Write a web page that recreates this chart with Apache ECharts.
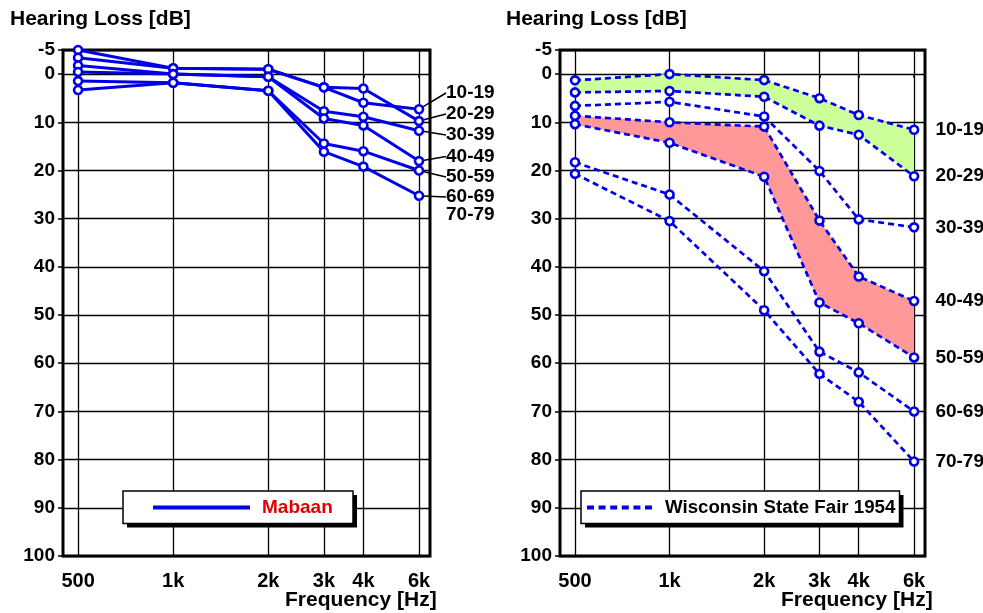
<!DOCTYPE html>
<html><head><meta charset="utf-8">
<script src="https://cdn.jsdelivr.net/npm/echarts@6/dist/echarts.min.js"></script>
<style>html,body{margin:0;padding:0;background:#fff}#c{width:983px;height:613px}</style>
</head><body><div id="c"></div>
<script>
// ---- data ----
const freqs = [500, 1000, 2000, 3000, 4000, 6000];
const freqLabels = ['500', '1k', '2k', '3k', '4k', '6k'];
const ageGroups = ['10-19', '20-29', '30-39', '40-49', '50-59', '60-69', '70-79'];
const yTicks = [-5, 0, 10, 20, 30, 40, 50, 60, 70, 80, 90, 100];

// Mabaan (left)
const mab1019 = [-5.0, -1.2, -1.0, 2.75, 5.95, 7.3];
const mab2029 = [-3.4, -1.2, -1.0, 2.75, 3.0, 9.75];
const mab3039 = [-1.8, 0.0, 0.55, 7.7, 8.85, 11.75];
const mab4049 = [-0.45, 0.0, 0.55, 9.2, 10.65, 18.05];
const mab5059 = [1.45, 1.8, 3.45, 14.4, 16.0, 20.0];
const mab6069 = [3.3, 1.8, 3.45, 16.1, 19.2, 25.25];

// Wisconsin State Fair 1954 (right)
const wis1019 = [1.3, 0.0, 1.25, 5.0, 8.5, 11.55];
const wis2029 = [3.8, 3.5, 4.7, 10.7, 12.6, 21.2];
const wis3039 = [6.6, 5.75, 8.8, 20.1, 30.15, 31.8];
const wis4049 = [8.65, 10.0, 10.9, 30.4, 42.0, 47.1];
const wis5059 = [10.4, 14.25, 21.3, 47.4, 51.7, 58.8];
const wis6069 = [18.3, 25.0, 40.9, 57.6, 61.9, 70.0];
const wis7079 = [20.7, 30.5, 49.0, 62.2, 68.0, 80.4];

const mabaan = [mab1019, mab2029, mab3039, mab4049, mab5059, mab6069];
const wisconsin = [wis1019, wis2029, wis3039, wis4049, wis5059, wis6069, wis7079];

// ---- styling ----
const FONT = '"Liberation Sans", Arial, Helvetica, sans-serif';
const BLUE = '#0000e6';
const leftLabelY = [93, 114, 135, 156.5, 177, 197];

function freqName(v) {
  let best = 0, bd = Infinity;
  freqs.forEach((f, i) => { const d = Math.abs(Math.log(v) - Math.log(f)); if (d < bd) { bd = d; best = i; } });
  return freqLabels[best];
}

function xAxisFor(g) {
  return {
    type: 'log', gridIndex: g, logBase: 10, min: 448, max: 6500,
    axisLine: { show: false },
    axisTick: { show: true, customValues: freqs, length: 4, lineStyle: { color: '#000', width: 1.5 } },
    axisLabel: { customValues: freqs, formatter: freqName, margin: 15, color: '#000',
      fontSize: 20, fontWeight: 'bold', fontFamily: FONT },
    splitLine: { show: true, lineStyle: { color: '#000', width: 1.3 } },
    minorSplitLine: { show: false }
  };
}
function yAxisFor(g) {
  return {
    type: 'value', gridIndex: g, inverse: true, min: -5, max: 100, interval: 5,
    axisLine: { show: false },
    axisTick: { show: true, customValues: yTicks, length: 5, lineStyle: { color: '#000', width: 1.5 } },
    axisLabel: { customValues: yTicks, margin: 8, color: '#000',
      fontSize: 19, fontWeight: 'bold', fontFamily: FONT },
    splitLine: { show: true, lineStyle: { color: '#000', width: 1.3 } }
  };
}

const symbolStyle = { color: '#fff', borderColor: BLUE, borderWidth: 2.6 };
const series = [];

// left: Mabaan
mabaan.forEach((vals, i) => {
  const last = vals.length - 1;
  series.push({
    type: 'line', name: ageGroups[i], xAxisIndex: 0, yAxisIndex: 0, z: 4, clip: false,
    data: freqs.map((f, j) => j === last ? {
      value: [f, vals[j]],
      label: { show: true, formatter: ageGroups[i], color: '#000', fontSize: 19, fontWeight: 'bold', fontFamily: FONT },
      labelLine: { show: true, lineStyle: { color: '#000', width: 1.5 } }
    } : [f, vals[j]]),
    symbol: 'circle', symbolSize: 8,
    lineStyle: { color: BLUE, width: 3 },
    itemStyle: symbolStyle,
    labelLine: { show: true, lineStyle: { color: '#000', width: 1.5 } },
    labelLayout: () => ({ x: 446, y: leftLabelY[i], align: 'left', verticalAlign: 'middle' }),
    emphasis: { disabled: true }, animation: false
  });
});

// right: shaded bands between two age groups, drawn through the axis scales
function band(upper, lower, color) {
  series.push({
    type: 'custom', xAxisIndex: 1, yAxisIndex: 1, z: 1, silent: true, animation: false,
    data: [[freqs[0], upper[0]]],
    renderItem: (params, api) => {
      const top = freqs.map((f, j) => api.coord([f, upper[j]]));
      const bottom = freqs.map((f, j) => api.coord([f, lower[j]])).reverse();
      return { type: 'polygon', shape: { points: top.concat(bottom) }, style: { fill: color } };
    }
  });
}
band(wis1019, wis2029, '#ccff99');
band(wis4049, wis5059, '#ff9999');

// right: Wisconsin lines
wisconsin.forEach((vals, i) => {
  const last = vals.length - 1;
  series.push({
    type: 'line', name: ageGroups[i], xAxisIndex: 1, yAxisIndex: 1, z: 4, clip: false,
    data: freqs.map((f, j) => j === last ? {
      value: [f, vals[j]],
      label: { show: true, position: 'right', distance: 16, formatter: ageGroups[i], color: '#000',
        fontSize: 19, fontWeight: 'bold', fontFamily: FONT }
    } : [f, vals[j]]),
    symbol: 'circle', symbolSize: 8,
    lineStyle: { color: BLUE, width: 2.7, type: [6, 4] },
    itemStyle: symbolStyle,
    emphasis: { disabled: true }, animation: false
  });
});

// legend carriers
series.push({ type: 'line', name: 'Mabaan', xAxisIndex: 0, yAxisIndex: 0, data: [], symbol: 'none',
  lineStyle: { color: BLUE, width: 4 }, itemStyle: { color: BLUE } });
series.push({ type: 'line', name: 'Wisconsin State Fair 1954', xAxisIndex: 1, yAxisIndex: 1, data: [], symbol: 'none',
  lineStyle: { color: BLUE, width: 4, type: [7, 4.6] }, itemStyle: { color: BLUE } });

const DASH_ICON = 'path://M0,0h7v4h-7z M11.6,0h7v4h-7z M23.2,0h7v4h-7z M34.8,0h7v4h-7z M46.4,0h7v4h-7z M58,0h7v4h-7z';

const legendBase = {
  orient: 'horizontal', itemHeight: 4, backgroundColor: 'transparent', borderWidth: 0,
  selectedMode: false, z: 12
};

function legendFrame(x, y, w, h) {
  return [
    { type: 'rect', z: 10, shape: { x: x + 4, y: y + 4, width: w, height: h }, style: { fill: '#000' }, silent: true },
    { type: 'rect', z: 11, shape: { x: x, y: y, width: w, height: h }, style: { fill: '#fff', stroke: '#000', lineWidth: 1.5 }, silent: true }
  ];
}

const option = {
  animation: false,
  backgroundColor: '#fff',
  grid: [
    { left: 63, right: 553, top: 50, bottom: 57, show: true, borderColor: '#000', borderWidth: 3, backgroundColor: 'transparent' },
    { left: 560, right: 58, top: 50, bottom: 57, show: true, borderColor: '#000', borderWidth: 3, backgroundColor: 'transparent' }
  ],
  xAxis: [xAxisFor(0), xAxisFor(1)],
  yAxis: [yAxisFor(0), yAxisFor(1)],
  title: [
    { text: 'Hearing Loss [dB]', left: 10, top: 9, padding: 0, textStyle: { fontSize: 21, fontWeight: 'bold', color: '#000', fontFamily: FONT } },
    { text: 'Hearing Loss [dB]', left: 506, top: 9, padding: 0, textStyle: { fontSize: 21, fontWeight: 'bold', color: '#000', fontFamily: FONT } },
    { text: 'Frequency [Hz]', left: 285, top: 590, padding: 0, textStyle: { fontSize: 21, fontWeight: 'bold', color: '#000', fontFamily: FONT } },
    { text: 'Frequency [Hz]', left: 781, top: 590, padding: 0, textStyle: { fontSize: 21, fontWeight: 'bold', color: '#000', fontFamily: FONT } }
  ],
  legend: [
    Object.assign({}, legendBase, { data: [{ name: 'Mabaan', icon: 'rect' }], left: 123, top: 491, itemWidth: 97, padding: [7, 21, 7, 30],
      textStyle: { color: '#e00000', fontSize: 19, fontWeight: 'bold', fontFamily: FONT, padding: [0, 0, 0, 7] } }),
    Object.assign({}, legendBase, { data: [{ name: 'Wisconsin State Fair 1954', icon: DASH_ICON }], left: 581, top: 491, itemWidth: 65, padding: [7, 3, 7, 6],
      textStyle: { color: '#000', fontSize: 18.7, fontWeight: 'bold', fontFamily: FONT, padding: [0, 0, 0, 8] } })
  ],
  graphic: [
    { type: 'text', left: 446, top: 205, style: { text: ageGroups[6], fill: '#000', font: 'bold 19px ' + FONT } }
  ].concat(legendFrame(123, 491, 230, 32.5), legendFrame(581, 491, 318.5, 32.5)),
  series: series
};

const chart = echarts.init(document.getElementById('c'), null, { renderer: 'canvas' });
chart.setOption(option);
</script>
</body></html>
